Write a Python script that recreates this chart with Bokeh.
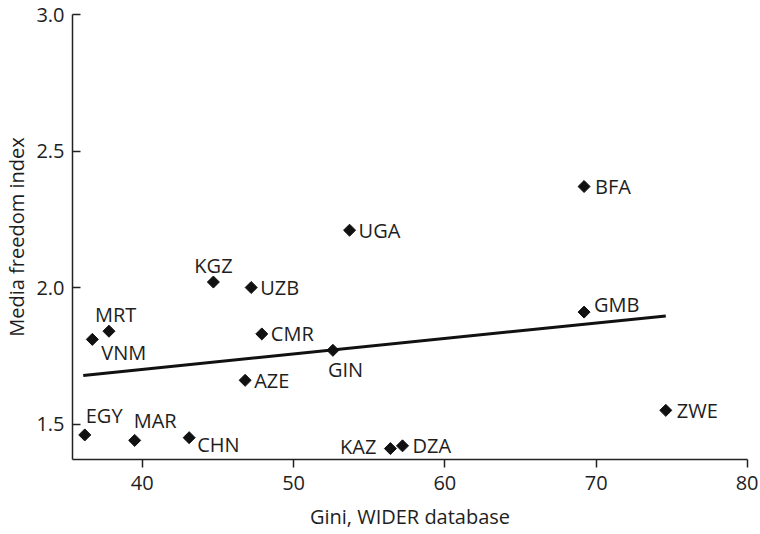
import math
from bokeh.plotting import figure
from bokeh.models import ColumnDataSource, Range1d, FixedTicker
from bokeh.core.properties import value
from bokeh.embed import file_html
from bokeh.resources import INLINE

# ---- data ----
codes = ["EGY", "MAR", "CHN", "VNM", "MRT", "KGZ", "UZB", "CMR",
         "AZE", "GIN", "KAZ", "DZA", "GMB", "ZWE", "UGA", "BFA"]
gini = [36.2, 39.5, 43.1, 36.7, 37.8, 44.7, 47.2, 47.9,
        46.8, 52.6, 56.4, 57.2, 69.2, 74.6, 53.7, 69.2]
media = [1.46, 1.44, 1.45, 1.81, 1.84, 2.02, 2.00, 1.83,
         1.66, 1.77, 1.41, 1.42, 1.91, 1.55, 2.21, 2.37]

# fitted line end points
fit_x = [36.1, 74.6]
fit_y = [1.678, 1.896]

x_ticks = [40, 50, 60, 70, 80]
y_ticks = [1.5, 2.0, 2.5, 3.0]

# ---- label placement (layout only) ----
lab_dx = [1, -1, 8, 9, -14, -19, 9, 9, 9, -5, -14, 10, 10, 11, 9, 11]
lab_dy = [-19, -20, 7, 13, -17, -17, 0, 0, 0, 19, -2, 0, -8, 0, 0, 0]
lab_align = ["left"] * 16
lab_align[codes.index("KAZ")] = "right"

FONT = "Open Sans"
FS = "20px"
TXT = "#1e1e1e"

src = ColumnDataSource(dict(x=gini, y=media, code=codes,
                            dx=lab_dx, dy=lab_dy, align=lab_align))

p = figure(width=758, height=532, output_backend="svg", toolbar_location=None,
           x_range=Range1d(35.39, 80.0001), y_range=Range1d(1.370, 3.0001),
           min_border_left=72, min_border_right=11, min_border_top=14,
           min_border_bottom=68)
p.outline_line_color = None
p.xgrid.visible = False
p.ygrid.visible = False
p.background_fill_color = "white"
p.border_fill_color = "white"

p.line(fit_x, fit_y, line_color="#111111", line_width=3)
p.scatter("x", "y", source=src, marker="square", angle=math.pi / 4,
          size=8.5, fill_color="#111111", line_color="#111111")
p.text("x", "y", text="code", source=src, x_offset="dx", y_offset="dy",
       text_align="align", text_baseline="middle",
       text_font=value(FONT), text_font_size=FS, text_color=TXT)

for ax in (p.xaxis[0], p.yaxis[0]):
    ax.axis_line_color = "#222222"
    ax.axis_line_width = 1.5
    ax.major_tick_line_color = "#222222"
    ax.major_tick_line_width = 1.5
    ax.minor_tick_line_color = None
    ax.major_label_text_font = FONT
    ax.major_label_text_font_size = FS
    ax.major_label_text_color = TXT
    ax.axis_label_text_font = FONT
    ax.axis_label_text_font_size = FS
    ax.axis_label_text_font_style = "normal"
    ax.axis_label_text_color = TXT
    ax.major_label_standoff = 8

p.xaxis.ticker = FixedTicker(ticks=x_ticks)
p.yaxis.ticker = FixedTicker(ticks=y_ticks)
p.xaxis.major_label_overrides = {t: str(t) for t in x_ticks}
p.yaxis.major_label_overrides = {t: f"{t:.1f}" for t in y_ticks}
p.xaxis.major_tick_in = 0
p.xaxis.major_tick_out = 8
p.yaxis.major_tick_in = 8
p.yaxis.major_tick_out = 0
p.xaxis.axis_label = "Gini, WIDER database"
p.yaxis.axis_label = "Media freedom index"
p.xaxis.axis_label_standoff = 10
p.yaxis.axis_label_standoff = 3

open("out.html", "w").write(file_html(p, INLINE))
